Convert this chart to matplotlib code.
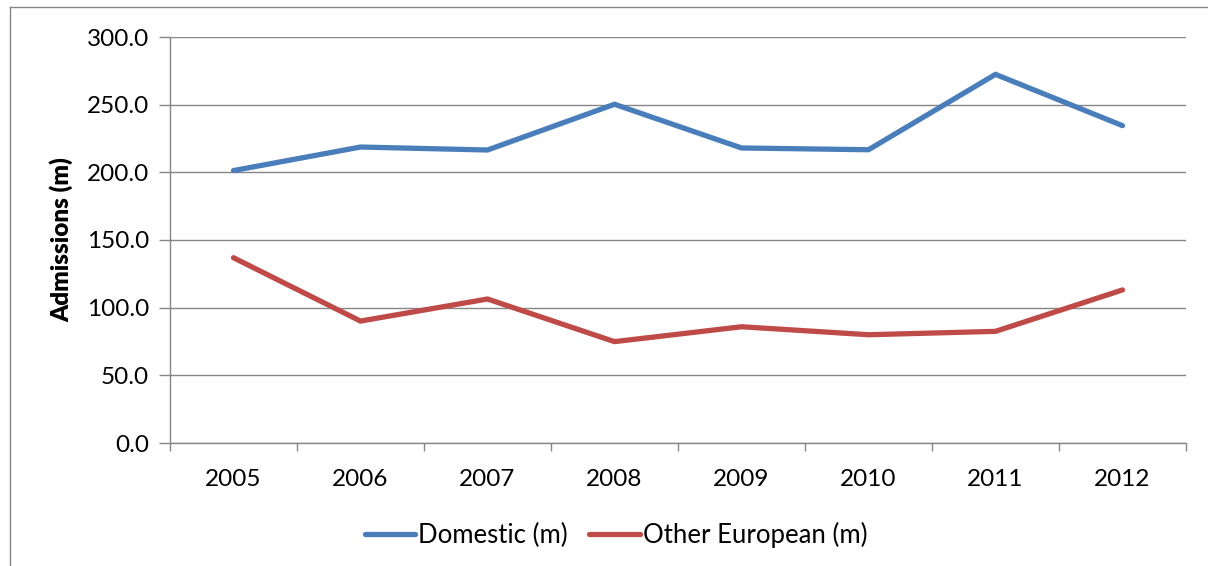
import matplotlib
matplotlib.use("Agg")
import matplotlib.pyplot as plt
from matplotlib.lines import Line2D

years = ["2005", "2006", "2007", "2008", "2009", "2010", "2011", "2012"]
domestic = [201.3, 218.7, 216.5, 250.3, 218.0, 216.7, 272.4, 234.5]
other_european = [136.9, 90.1, 106.4, 74.9, 85.9, 80.0, 82.5, 113.1]
y_ticks = [0, 50, 100, 150, 200, 250, 300]

plt.rcParams["font.family"] = ["Lato", "DejaVu Sans"]
FS = 17.5
LEG_FS = 18.5

W, H = 1208, 566
fig = plt.figure(figsize=(W / 100, H / 100), dpi=100)
fig.patch.set_facecolor("white")

# axes box in pixel coordinates
left, right, top, bottom = 170, 1186, 37, 443
ax = fig.add_axes([left / W, 1 - bottom / H, (right - left) / W, (bottom - top) / H])

grid_col = "#868686"
blue = "#4A7EBB"
red = "#BE4B48"

x = list(range(len(years)))
ax.plot(x, domestic, color=blue, lw=3.8, solid_capstyle="round",
        solid_joinstyle="miter", label="Domestic (m)", zorder=3)
ax.plot(x, other_european, color=red, lw=3.8, solid_capstyle="round",
        solid_joinstyle="miter", label="Other European (m)", zorder=3)

ax.set_xlim(-0.5, len(years) - 0.5)
ax.set_ylim(0, 300)

ax.set_yticks(y_ticks)
ax.set_yticklabels([f"{v:.1f}" for v in y_ticks])
ax.yaxis.grid(True, color=grid_col, lw=1.0)
ax.set_axisbelow(True)

# category labels centred, tick marks on category boundaries
ax.set_xticks(x)
ax.set_xticklabels(years)
ax.set_xticks([i - 0.5 for i in range(len(years) + 1)], minor=True)
ax.tick_params(axis="x", which="major", length=0, pad=19, labelsize=FS, colors="black")
ax.tick_params(axis="x", which="minor", length=6, width=1.0, color=grid_col)
ax.tick_params(axis="y", length=8, width=1.0, color=grid_col, pad=7, labelsize=FS)

for side in ("top", "right"):
    ax.spines[side].set_visible(False)
for side in ("left", "bottom"):
    ax.spines[side].set_color(grid_col)
    ax.spines[side].set_linewidth(1.0)

ax.set_ylabel("Admissions (m)", fontsize=FS, fontweight=800)
ax.yaxis.set_label_coords(-97 / (right - left), 0.5)

handles = [Line2D([0], [0], color=blue, lw=3.8, solid_capstyle="round"),
           Line2D([0], [0], color=red, lw=3.8, solid_capstyle="round")]
fig.legend(handles, ["Domestic (m)", "Other European (m)"],
           loc="center", bbox_to_anchor=(616 / W, 1 - 535 / H), ncol=2,
           frameon=False, fontsize=LEG_FS, handlelength=1.95, handletextpad=0.12,
           columnspacing=0.85)

# outer chart frame (top and left edges)
fig.add_artist(Line2D([10 / W, 1.0], [1 - 7 / H, 1 - 7 / H], color=grid_col, lw=1.0,
                      transform=fig.transFigure))
fig.add_artist(Line2D([10 / W, 10 / W], [0.0, 1 - 7 / H], color=grid_col, lw=1.0,
                      transform=fig.transFigure))

fig.savefig("out.png", dpi=100, facecolor="white")
